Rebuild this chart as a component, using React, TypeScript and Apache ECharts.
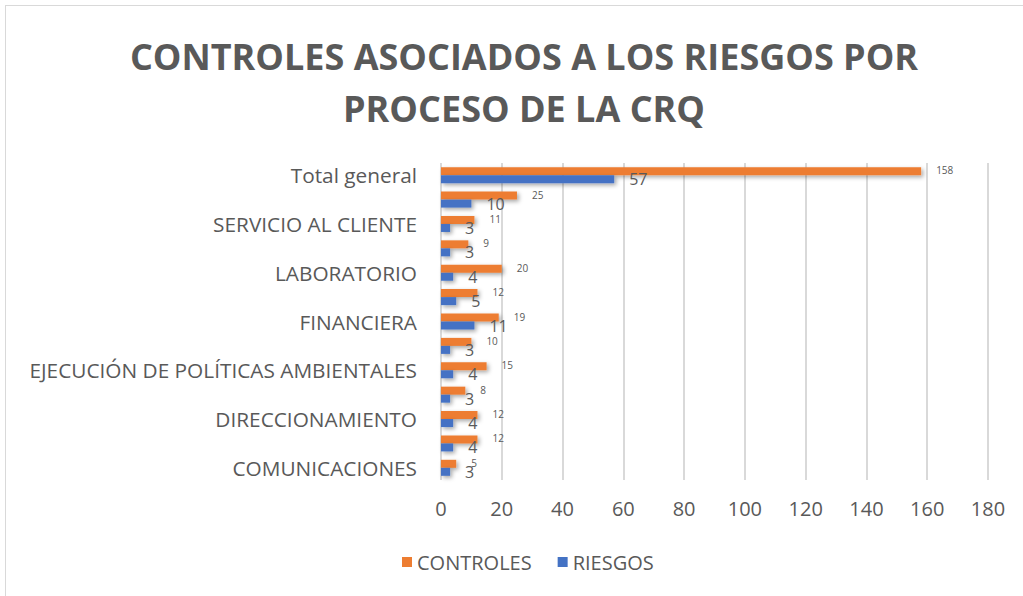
import React, { useEffect, useRef } from "react";
import * as echarts from "echarts";

const categories = [
  "COMUNICACIONES",
  "CONTROL INTERNO",
  "DIRECCIONAMIENTO",
  "DOCUMENTAL",
  "EJECUCIÓN DE POLÍTICAS AMBIENTALES",
  "EVALUACIÓN",
  "FINANCIERA",
  "JURÍDICA",
  "LABORATORIO",
  "PLANEACIÓN",
  "SERVICIO AL CLIENTE",
  "TALENTO HUMANO",
  "Total general",
];
const controles = [5, 12, 12, 8, 15, 10, 19, 12, 20, 9, 11, 25, 158];
const riesgos = [3, 4, 4, 3, 4, 3, 11, 5, 4, 3, 3, 10, 57];
const xTicks = { min: 0, max: 180, interval: 20 };
const titleText = "CONTROLES ASOCIADOS A LOS RIESGOS POR\nPROCESO DE LA CRQ";

const FONT = "'Open Sans', 'Liberation Sans', sans-serif";
const GRAY = "#595959";

export default function App() {
  const ref = useRef<HTMLDivElement>(null);
  useEffect(() => {
    if (!ref.current) return;
    const chart = echarts.init(ref.current, null, { renderer: "svg" });
    const shadow = {
      shadowColor: "rgba(0,0,0,0.35)",
      shadowBlur: 4,
      shadowOffsetX: 2,
      shadowOffsetY: 2,
    };
    chart.setOption({
      animation: false,
      backgroundColor: "#ffffff",
      legend: {
        data: ["CONTROLES", "RIESGOS"],
        left: 397,
        top: 547,
        itemWidth: 10,
        itemHeight: 10,
        itemGap: 26,
        icon: "rect",
        textStyle: { fontFamily: FONT, fontSize: 20, color: GRAY },
      },
      grid: { left: 441, right: 35, top: 163, bottom: 116, containLabel: false },
      xAxis: {
        type: "value",
        min: xTicks.min,
        max: xTicks.max,
        interval: xTicks.interval,
        axisLine: { show: false },
        axisTick: { show: false },
        axisLabel: { fontFamily: FONT, fontSize: 20, color: GRAY, margin: 18 },
        splitLine: { lineStyle: { color: "#d9d9d9", width: 2 } },
      },
      yAxis: {
        type: "category",
        data: categories,
        axisLine: { show: false },
        axisTick: { show: false },
        axisLabel: {
          interval: 1,
          fontFamily: FONT,
          fontSize: 20.8,
          color: GRAY,
          margin: 24,
        },
      },
      series: [
        {
          name: "CONTROLES",
          type: "bar",
          data: controles,
          barWidth: 8,
          barGap: "0%",
          itemStyle: { color: "#ED7D31", ...shadow },
          label: {
            show: true,
            position: "right",
            distance: 15,
            offset: [0, -1],
            fontFamily: FONT,
            fontSize: 10,
            color: GRAY,
          },
        },
        {
          name: "RIESGOS",
          type: "bar",
          data: riesgos,
          barWidth: 8,
          barGap: "0%",
          itemStyle: { color: "#4472C4", ...shadow },
          label: {
            show: true,
            position: "right",
            distance: 15,
            fontFamily: FONT,
            fontSize: 16,
            color: GRAY,
          },
        },
      ],
      graphic: [
        {
          type: "text",
          x: 524,
          y: 30,
          style: {
            text: titleText,
            fill: GRAY,
            fontFamily: FONT,
            fontSize: 36,
            fontWeight: "bold",
            lineHeight: 52,
            align: "center",
            verticalAlign: "top",
          },
        },
        {
          type: "line",
          shape: { x1: 5, y1: 5.5, x2: 1023, y2: 5.5 },
          style: { stroke: "#d9d9d9", lineWidth: 1 },
        },
        {
          type: "line",
          shape: { x1: 5.5, y1: 5, x2: 5.5, y2: 596 },
          style: { stroke: "#d9d9d9", lineWidth: 1 },
        },
      ],
    });
    return () => chart.dispose();
  }, []);
  return (
    <div
      ref={ref}
      style={{ width: 1023, height: 596, position: "absolute", left: 0, top: 0 }}
    />
  );
}
